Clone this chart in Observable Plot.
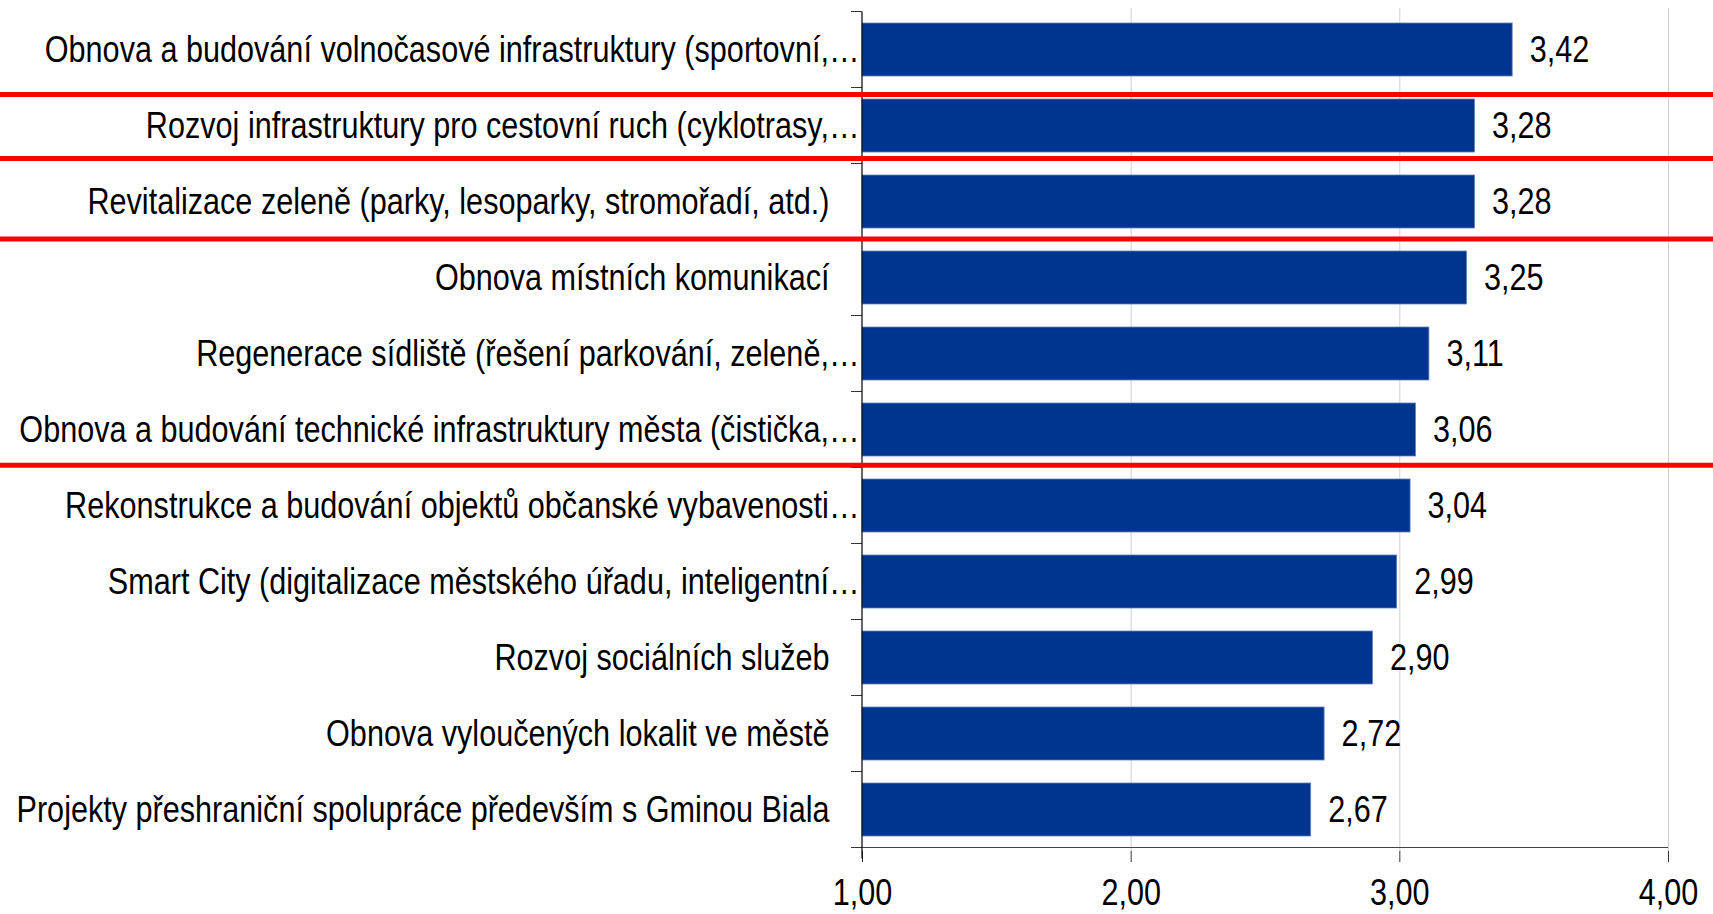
<!DOCTYPE html>
<html>
<head>
<meta charset="utf-8">
<script src="https://cdn.jsdelivr.net/npm/d3@7"></script>
<script src="https://cdn.jsdelivr.net/npm/@observablehq/plot@0.6"></script>
<style>
html, body { margin: 0; padding: 0; background: #fff; }
#chart svg { display: block; }
</style>
</head>
<body>
<div id="chart"></div>
<script>
// ---- data ----
const categories = [
  "Obnova a budování volnočasové infrastruktury (sportovní,…",
  "Rozvoj infrastruktury pro cestovní ruch (cyklotrasy,…",
  "Revitalizace zeleně (parky, lesoparky, stromořadí, atd.)",
  "Obnova místních komunikací",
  "Regenerace sídliště (řešení parkování, zeleně,…",
  "Obnova a budování technické infrastruktury města (čistička,…",
  "Rekonstrukce a budování objektů občanské vybavenosti…",
  "Smart City (digitalizace městského úřadu, inteligentní…",
  "Rozvoj sociálních služeb",
  "Obnova vyloučených lokalit ve městě",
  "Projekty přeshraniční spolupráce především s Gminou Biala"
];
const values = [3.42, 3.28, 3.28, 3.25, 3.11, 3.06, 3.04, 2.99, 2.90, 2.72, 2.67];
const xTicks = [1, 2, 3, 4];
const xTickLabels = ["1,00", "2,00", "3,00", "4,00"];
// red separator lines drawn below these categories
const separatorsAfter = [categories[0], categories[1], categories[2], categories[5]];

// ---- layout ----
const W = 1713, H = 914, MT = 8, MB = 63, ML = 862, MR = 45;
const FONT = '"Liberation Sans Narrow","Arial Narrow","Liberation Sans",Arial,sans-serif';
const NARROW = 0.85; // horizontal condensing to mimic a narrow face
const SEP_NUDGE = [7, -5, -0.5, -2.3]; // hand-drawn separators sit slightly off the boundaries
const comma = v => d3.format(".2f")(v).replace(".", ",");
const data = categories.map((c, i) => ({category: c, value: values[i]}));
const isCut = d => d.category.endsWith("…");

const plot = Plot.plot({
  width: W, height: H,
  marginTop: MT, marginBottom: MB, marginLeft: ML, marginRight: MR,
  style: {fontFamily: FONT, fontSize: "36px", color: "#000", background: "#fff"},
  x: {domain: [1, 4], axis: null, label: null},
  y: {domain: categories, paddingInner: 0.3, paddingOuter: 0.15, axis: null},
  marks: [
    Plot.gridX(xTicks.slice(1), {stroke: "#cfcfcf", strokeOpacity: 1, strokeWidth: 1}),
    Plot.barX(data, {x1: 1, x2: "value", y: "category", fill: "#00358f", stroke: "#5f80c0", strokeWidth: 0.8}),
    Plot.axisX(xTicks, {tickSize: 11, tickPadding: 17, stroke: "#333", label: null,
      tickFormat: d => xTickLabels[xTicks.indexOf(d)], fill: "#000", fontSize: 36}),
    Plot.text(data.filter(isCut), {y: "category", text: "category", frameAnchor: "left",
      textAnchor: "end", dx: -3, fill: "#000", fontSize: 36}),
    Plot.text(data.filter(d => !isCut(d)), {y: "category", text: "category", frameAnchor: "left",
      textAnchor: "end", dx: -33, fill: "#000", fontSize: 36}),
    Plot.text(data, {x: "value", y: "category", text: d => comma(d.value),
      textAnchor: "start", dx: 17, fill: "#000", fontSize: 36})
  ]
});

document.getElementById("chart").appendChild(plot);

// condense every text horizontally (narrow face is not installed)
plot.querySelectorAll("text").forEach(t => {
  const len = t.getComputedTextLength();
  if (len > 0) {
    t.setAttribute("textLength", (len * NARROW).toFixed(2));
    t.setAttribute("lengthAdjust", "spacingAndGlyphs");
  }
});

// ---- structural lines via the plot's own scales ----
const ys = plot.scale("y");
const xs = plot.scale("x");
const step = ys.step, bw = ys.bandwidth;
const bandTop = c => ys.apply(c) - (step - bw) / 2;
const svg = d3.select(plot);
const g = svg.append("g");
const yTop = bandTop(categories[0]);
const yBot = bandTop(categories[categories.length - 1]) + step;
const x0 = xs.apply(1), x4 = xs.apply(4);

// category boundary ticks
const bounds = categories.map(bandTop).concat([yBot]);
g.selectAll("line.yt").data(bounds).join("line")
  .attr("x1", x0 - 11).attr("x2", x0).attr("y1", d => d).attr("y2", d => d)
  .attr("stroke", "#333").attr("stroke-width", 1);
// x axis line
g.append("line").attr("x1", x0).attr("x2", x4).attr("y1", yBot).attr("y2", yBot)
  .attr("stroke", "#444").attr("stroke-width", 1.2);
// y axis line
g.append("line").attr("x1", x0).attr("x2", x0).attr("y1", yTop).attr("y2", yBot + 11)
  .attr("stroke", "#000").attr("stroke-width", 1.2);
// red separators across the full width
g.selectAll("line.sep").data(separatorsAfter).join("line")
  .attr("x1", 0).attr("x2", W)
  .attr("y1", (c, i) => bandTop(c) + step + SEP_NUDGE[i])
  .attr("y2", (c, i) => bandTop(c) + step + SEP_NUDGE[i])
  .attr("stroke", "#ff0000").attr("stroke-width", 5);
</script>
</body>
</html>
